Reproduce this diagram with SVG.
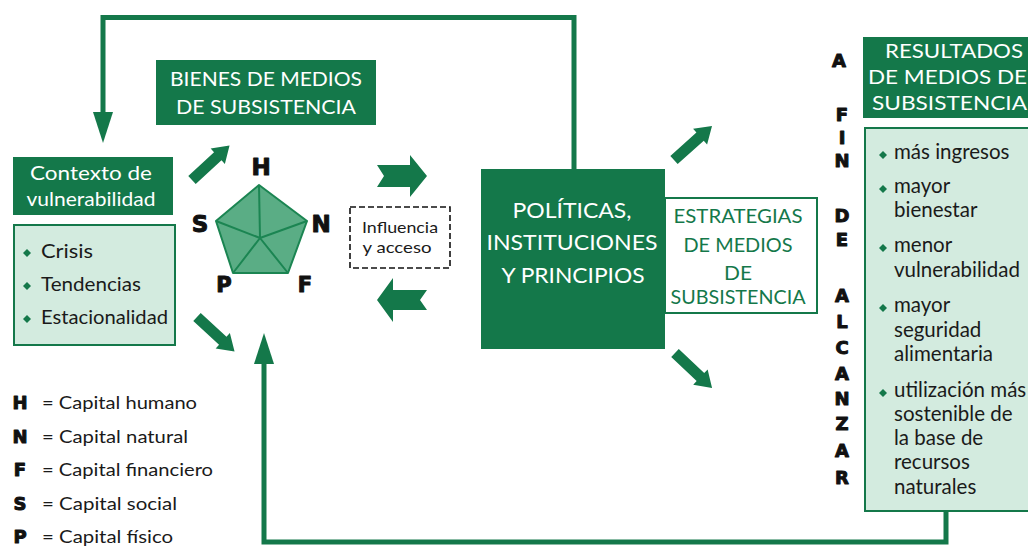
<svg xmlns="http://www.w3.org/2000/svg" width="1028" height="546" viewBox="0 0 1028 546">
<style>
.dark{fill:#14784a}
.lbl{font-family:Lato,"Open Sans","Liberation Sans",sans-serif;}
.w{fill:#ffffff}
.g{fill:#14784a}
.k{fill:#1a1a1a}
.big{font-family:"DejaVu Sans","Liberation Sans",sans-serif;font-weight:bold;fill:#111111;stroke:#111111;stroke-width:1;stroke-linejoin:round}
.light{fill:#d3ebdf;stroke:#14784a;stroke-width:2}
.line{fill:none;stroke:#14784a;stroke-width:5}
.blk{fill:#14784a}
.dot{fill:#14784a}
.it{font-size:20.5px}
</style>
<defs>
<marker id="head" markerUnits="userSpaceOnUse" markerWidth="31" markerHeight="20" refX="0" refY="10" orient="auto">
<path d="M0,0 L31,10 L0,20 z" fill="#14784a"/>
</marker>
<path id="diag" d="M0,-5.5 L35,-5.5 L35,-10.5 L51,0 L35,10.5 L35,5.5 L0,5.5 z"/>
<path id="dm" d="M0,-4 L4,0 L0,4 L-4,0 z"/>
</defs>
<rect width="1028" height="546" fill="#ffffff"/>

<g id="connectors">
<path class="line" d="M574,170 L574,17.5 L103,17.5 L103,112" marker-end="url(#head)"/>
<path class="line" d="M946,511 L946,542 L264,542 L264,364" marker-end="url(#head)"/>
<use href="#diag" class="blk" transform="translate(192,180) rotate(-42.6)"/>
<use href="#diag" class="blk" transform="translate(197,317) rotate(42.6)"/>
<use href="#diag" class="blk" transform="translate(674,160) rotate(-41.8)"/>
<use href="#diag" class="blk" transform="translate(675,353) rotate(43.4)"/>
<polygon class="blk" points="377,165 410,165 410,155 427,176 410,197 410,187 377,187 384,176"/>
<polygon class="blk" points="427,290 393,290 393,278 377,300 393,322 393,310 427,310 420,300"/>
</g>

<g id="bienes">
<rect class="dark" x="156" y="60" width="220" height="65"/>
<text class="lbl w" x="266" y="86" font-size="20" text-anchor="middle" textLength="192" lengthAdjust="spacingAndGlyphs">BIENES DE MEDIOS</text>
<text class="lbl w" x="266" y="114" font-size="20" text-anchor="middle" textLength="180" lengthAdjust="spacingAndGlyphs">DE SUBSISTENCIA</text>
</g>

<g id="contexto">
<rect class="dark" x="13" y="157" width="160" height="58"/>
<text class="lbl w" x="91" y="180" font-size="19" text-anchor="middle" textLength="122" lengthAdjust="spacingAndGlyphs">Contexto de</text>
<text class="lbl w" x="91" y="206" font-size="19" text-anchor="middle" textLength="129" lengthAdjust="spacingAndGlyphs">vulnerabilidad</text>
</g>

<g id="contexto-items">
<rect class="light" x="14" y="225" width="161" height="120"/>
<use href="#dm" class="dot" x="27" y="253"/>
<use href="#dm" class="dot" x="27" y="286"/>
<use href="#dm" class="dot" x="27" y="319"/>
<text class="lbl k" x="41" y="258" font-size="20" textLength="52" lengthAdjust="spacingAndGlyphs">Crisis</text>
<text class="lbl k" x="41" y="291" font-size="20" textLength="100" lengthAdjust="spacingAndGlyphs">Tendencias</text>
<text class="lbl k" x="41" y="324" font-size="20" textLength="127" lengthAdjust="spacingAndGlyphs">Estacionalidad</text>
</g>

<g id="pentagono">
<polygon points="259,185 307,221 288,273 233,273 216,221" fill="#5aad85" stroke="#1b8552" stroke-width="2" stroke-linejoin="round"/>
<path d="M260,238 L259,185 M260,238 L307,221 M260,238 L288,273 M260,238 L233,273 M260,238 L216,221" stroke="#1b8552" stroke-width="2" fill="none"/>
<text class="big" x="261" y="175" font-size="23" text-anchor="middle">H</text>
<text class="big" x="321" y="232" font-size="23" text-anchor="middle">N</text>
<text class="big" x="200" y="232" font-size="23" text-anchor="middle">S</text>
<text class="big" x="224" y="292" font-size="21" text-anchor="middle">P</text>
<text class="big" x="305" y="292" font-size="21" text-anchor="middle">F</text>
</g>

<g id="influencia">
<rect x="350" y="207" width="100" height="61" fill="none" stroke="#111111" stroke-width="1.6" stroke-dasharray="6,3"/>
<text class="lbl k" x="400" y="233" font-size="15" text-anchor="middle" textLength="76" lengthAdjust="spacingAndGlyphs">Influencia</text>
<text class="lbl k" x="397" y="253" font-size="15" text-anchor="middle" textLength="69" lengthAdjust="spacingAndGlyphs">y acceso</text>
</g>

<g id="politicas">
<rect class="dark" x="481" y="169" width="184" height="180"/>
<text class="lbl w" x="572" y="218" font-size="21" text-anchor="middle" textLength="119" lengthAdjust="spacingAndGlyphs">POLÍTICAS,</text>
<text class="lbl w" x="572" y="250" font-size="21" text-anchor="middle" textLength="171" lengthAdjust="spacingAndGlyphs">INSTITUCIONES</text>
<text class="lbl w" x="573" y="283" font-size="21" text-anchor="middle" textLength="143" lengthAdjust="spacingAndGlyphs">Y PRINCIPIOS</text>
</g>

<g id="estrategias">
<rect x="665" y="198" width="152" height="115" fill="#ffffff" stroke="#14784a" stroke-width="2"/>
<text class="lbl g" x="738" y="223" font-size="20" text-anchor="middle" textLength="129" lengthAdjust="spacingAndGlyphs">ESTRATEGIAS</text>
<text class="lbl g" x="738" y="252" font-size="20" text-anchor="middle" textLength="109" lengthAdjust="spacingAndGlyphs">DE MEDIOS</text>
<text class="lbl g" x="738" y="280" font-size="20" text-anchor="middle" textLength="28" lengthAdjust="spacingAndGlyphs">DE</text>
<text class="lbl g" x="738" y="304" font-size="20" text-anchor="middle" textLength="135" lengthAdjust="spacingAndGlyphs">SUBSISTENCIA</text>
</g>

<g id="a-fin-de-alcanzar">
<text class="big" x="839" y="67" font-size="18" text-anchor="middle">A</text>
<text class="big" x="842" y="121" font-size="18" text-anchor="middle">F</text>
<text class="big" x="842" y="144" font-size="18" text-anchor="middle">I</text>
<text class="big" x="842" y="167" font-size="18" text-anchor="middle">N</text>
<text class="big" x="842" y="222" font-size="18" text-anchor="middle">D</text>
<text class="big" x="842" y="246" font-size="18" text-anchor="middle">E</text>
<text class="big" x="842" y="302" font-size="18" text-anchor="middle">A</text>
<text class="big" x="842" y="328" font-size="18" text-anchor="middle">L</text>
<text class="big" x="842" y="354" font-size="18" text-anchor="middle">C</text>
<text class="big" x="842" y="380" font-size="18" text-anchor="middle">A</text>
<text class="big" x="842" y="405" font-size="18" text-anchor="middle">N</text>
<text class="big" x="842" y="430" font-size="18" text-anchor="middle">Z</text>
<text class="big" x="842" y="457" font-size="18" text-anchor="middle">A</text>
<text class="big" x="842" y="484" font-size="18" text-anchor="middle">R</text>
</g>

<g id="resultados">
<rect class="dark" x="863" y="37" width="170" height="81"/>
<text class="lbl w" x="885" y="58" font-size="19" textLength="138" lengthAdjust="spacingAndGlyphs">RESULTADOS</text>
<text class="lbl w" x="868" y="84" font-size="19" textLength="159" lengthAdjust="spacingAndGlyphs">DE MEDIOS DE</text>
<text class="lbl w" x="872" y="110" font-size="19" textLength="155" lengthAdjust="spacingAndGlyphs">SUBSISTENCIA</text>
</g>

<g id="resultados-items">
<rect class="light" x="865" y="128" width="170" height="383"/>
<use href="#dm" class="dot" x="883" y="155"/>
<use href="#dm" class="dot" x="883" y="189"/>
<use href="#dm" class="dot" x="883" y="248"/>
<use href="#dm" class="dot" x="883" y="308"/>
<use href="#dm" class="dot" x="883" y="393"/>
<text class="lbl k it" x="894" y="159">más ingresos</text>
<text class="lbl k it" x="894" y="193">mayor</text>
<text class="lbl k it" x="894" y="217">bienestar</text>
<text class="lbl k it" x="894" y="252">menor</text>
<text class="lbl k it" x="894" y="277">vulnerabilidad</text>
<text class="lbl k it" x="894" y="312">mayor</text>
<text class="lbl k it" x="894" y="337">seguridad</text>
<text class="lbl k it" x="894" y="361">alimentaria</text>
<text class="lbl k it" x="894" y="397">utilización más</text>
<text class="lbl k it" x="894" y="421">sostenible de</text>
<text class="lbl k it" x="894" y="445">la base de</text>
<text class="lbl k it" x="894" y="469">recursos</text>
<text class="lbl k it" x="894" y="494">naturales</text>
</g>

<g id="leyenda">
<text class="big" x="20" y="409" font-size="18" text-anchor="middle">H</text>
<text class="big" x="20" y="443" font-size="18" text-anchor="middle">N</text>
<text class="big" x="20" y="476" font-size="18" text-anchor="middle">F</text>
<text class="big" x="20" y="510" font-size="18" text-anchor="middle">S</text>
<text class="big" x="20" y="543" font-size="18" text-anchor="middle">P</text>
<text class="lbl k" x="42" y="409" font-size="18" textLength="155" lengthAdjust="spacingAndGlyphs">= Capital humano</text>
<text class="lbl k" x="42" y="443" font-size="18" textLength="146" lengthAdjust="spacingAndGlyphs">= Capital natural</text>
<text class="lbl k" x="42" y="476" font-size="18" textLength="171" lengthAdjust="spacingAndGlyphs">= Capital financiero</text>
<text class="lbl k" x="42" y="510" font-size="18" textLength="135" lengthAdjust="spacingAndGlyphs">= Capital social</text>
<text class="lbl k" x="42" y="543" font-size="18" textLength="131" lengthAdjust="spacingAndGlyphs">= Capital físico</text>
</g>
</svg>
